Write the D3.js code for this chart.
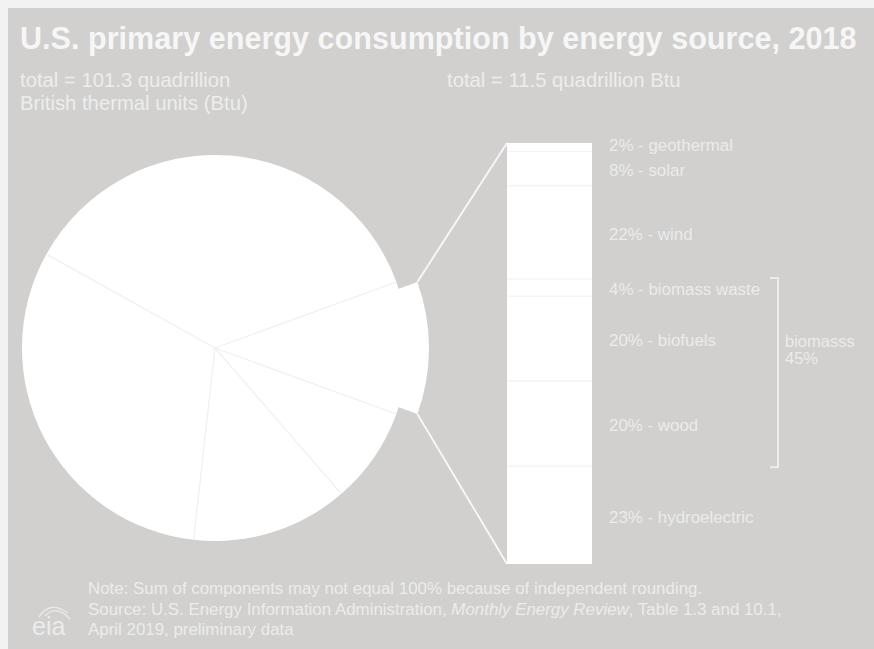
<!DOCTYPE html>
<html>
<head>
<meta charset="utf-8">
<script src="https://cdn.jsdelivr.net/npm/d3@7/dist/d3.min.js"></script>
<style>
  html, body { margin: 0; padding: 0; background: #f2f2f2; }
  svg { display: block; }
  text { font-family: "Liberation Sans", Arial, Helvetica, sans-serif; }
</style>
</head>
<body>
<svg id="chart" width="874" height="649"></svg>
<script>
// ---- data ----
const pieSources = ["renewable energy", "nuclear electric power", "coal", "natural gas", "petroleum"];
const pieShares  = [11, 8, 13, 31, 36];

const barSources = ["geothermal", "solar", "wind", "biomass waste", "biofuels", "wood", "hydroelectric"];
const barShares  = [2, 8, 22, 4, 20, 20, 23];

const biomassGroup = ["biomass waste", "biofuels", "wood"];
const biomassLabel = ["biomasss", "45%"];

const titleText = "U.S. primary energy consumption by energy source, 2018";
const leftTotal = ["total = 101.3 quadrillion", "British thermal units (Btu)"];
const rightTotal = ["total = 11.5 quadrillion Btu"];

// ---- layout ----
const svg = d3.select("#chart");
svg.append("rect").attr("x", 8).attr("y", 8).attr("width", 866).attr("height", 641).attr("fill", "#d1d0ce");

svg.append("text").attr("x", 20).attr("y", 49)
  .attr("font-size", 30.6).attr("font-weight", "bold").attr("fill", "#f6f6f6")
  .text(titleText);

const sub = svg.append("g").attr("fill", "#ededed").attr("font-size", 20.3);
sub.selectAll("text.l").data(leftTotal).join("text").attr("class", "l")
  .attr("x", 20).attr("y", (d, i) => 86.5 + i * 23.5).text(d => d);
sub.selectAll("text.r").data(rightTotal).join("text").attr("class", "r")
  .attr("x", 447).attr("y", 86.5).text(d => d);

// ---- pie ----
const cx = 215, cy = 348, R = 193, explode = 21;
const share0 = pieShares[0] / d3.sum(pieShares);
const a0 = Math.PI / 2 - Math.PI * share0;
const pie = d3.pie().sort(null).value(d => d.v).startAngle(a0).endAngle(a0 + 2 * Math.PI);
const arcs = pie(pieSources.map((s, i) => ({ s, v: pieShares[i] })));
const arc = d3.arc().innerRadius(0).outerRadius(R);

const gPie = svg.append("g").attr("transform", `translate(${cx},${cy})`);
gPie.selectAll("path.base").data(arcs).join("path").attr("class", "base")
  .attr("d", arc).attr("fill", "#ffffff");
gPie.selectAll("line.sep").data(arcs).join("line").attr("class", "sep")
  .attr("x1", 0).attr("y1", 0)
  .attr("x2", d => d3.pointRadial(d.startAngle, R - 1)[0])
  .attr("y2", d => d3.pointRadial(d.startAngle, R - 1)[1])
  .attr("stroke", "#f1f1f1").attr("stroke-width", 1.3);

const ex = arcs[0];
const mid = (ex.startAngle + ex.endAngle) / 2;
const off = d3.pointRadial(mid, explode);
gPie.append("path").attr("d", arc(ex)).attr("fill", "#ffffff")
  .attr("transform", `translate(${off[0]},${off[1]})`);

// ---- bar ----
const barX = 507, barW = 85;
const y = d3.scaleLinear().domain([0, d3.sum(barShares)]).range([143, 564]);
const cum = d3.cumsum(barShares);
const segs = barSources.map((s, i) => ({ s, v: barShares[i], y0: cum[i] - barShares[i], y1: cum[i] }));

const gBar = svg.append("g");
gBar.selectAll("rect").data(segs).join("rect")
  .attr("x", barX).attr("width", barW)
  .attr("y", d => y(d.y0)).attr("height", d => y(d.y1) - y(d.y0))
  .attr("fill", "#ffffff");
gBar.selectAll("line").data(segs.slice(1)).join("line")
  .attr("x1", barX).attr("x2", barX + barW)
  .attr("y1", d => y(d.y0)).attr("y2", d => y(d.y0))
  .attr("stroke", "#f3f3f3").attr("stroke-width", 1.2);

// connectors
const pTop = d3.pointRadial(ex.startAngle, R);
const pBot = d3.pointRadial(ex.endAngle, R);
const conn = svg.append("g").attr("stroke", "#f6f6f6").attr("stroke-width", 2).attr("fill", "none");
conn.append("line").attr("x1", cx + off[0] + pTop[0]).attr("y1", cy + off[1] + pTop[1])
  .attr("x2", barX).attr("y2", y(0));
conn.append("line").attr("x1", cx + off[0] + pBot[0]).attr("y1", cy + off[1] + pBot[1])
  .attr("x2", barX).attr("y2", y(d3.sum(barShares)));

// bar labels
svg.append("g").attr("fill", "#ebebeb").attr("font-size", 16.9)
  .selectAll("text").data(segs).join("text")
  .attr("x", 609).attr("y", (d, i) => y((d.y0 + d.y1) / 2) + (i === 0 ? -2 : 1.5)).attr("dy", "0.35em")
  .text(d => `${d.v}% - ${d.s}`);

// biomass bracket
const bSegs = segs.filter(d => biomassGroup.includes(d.s));
const bTop = y(d3.min(bSegs, d => d.y0)) - 1, bBot = y(d3.max(bSegs, d => d.y1)) + 1;
svg.append("path")
  .attr("d", `M770,${bTop}H778V${bBot}H770`)
  .attr("fill", "none").attr("stroke", "#ececec").attr("stroke-width", 2);
const bioMid = bSegs.find(d => d.s === "biofuels");
svg.append("g").attr("fill", "#ebebeb").attr("font-size", 16.5)
  .selectAll("text").data(biomassLabel).join("text")
  .attr("x", 785).attr("y", (d, i) => y((bioMid.y0 + bioMid.y1) / 2) + 8 + i * 17.5)
  .text(d => d);

// ---- notes ----
const note = svg.append("g").attr("fill", "#ececec").attr("font-size", 16.9);
note.append("text").attr("x", 88).attr("y", 594)
  .text("Note: Sum of components may not equal 100% because of independent rounding.");
const src = note.append("text").attr("x", 88).attr("y", 614.5);
src.append("tspan").text("Source: U.S. Energy Information Administration, ");
src.append("tspan").attr("font-style", "italic").text("Monthly Energy Review");
src.append("tspan").text(", Table 1.3 and 10.1,");
note.append("text").attr("x", 88).attr("y", 635).text("April 2019, preliminary data");

// eia logo
const logo = svg.append("g").attr("fill", "none").attr("stroke", "#e9e9e9").attr("stroke-width", 1.4);
logo.append("path").attr("d", "M39,617 Q50,600 68,613");
logo.append("path").attr("d", "M45,616 Q56,604 70,619");
svg.append("text").attr("x", 32).attr("y", 635)
  .attr("font-family", "'Liberation Serif', 'DejaVu Serif', serif")
  .attr("font-size", 25).attr("fill", "#ebebeb").text("eia");
</script>
</body>
</html>
